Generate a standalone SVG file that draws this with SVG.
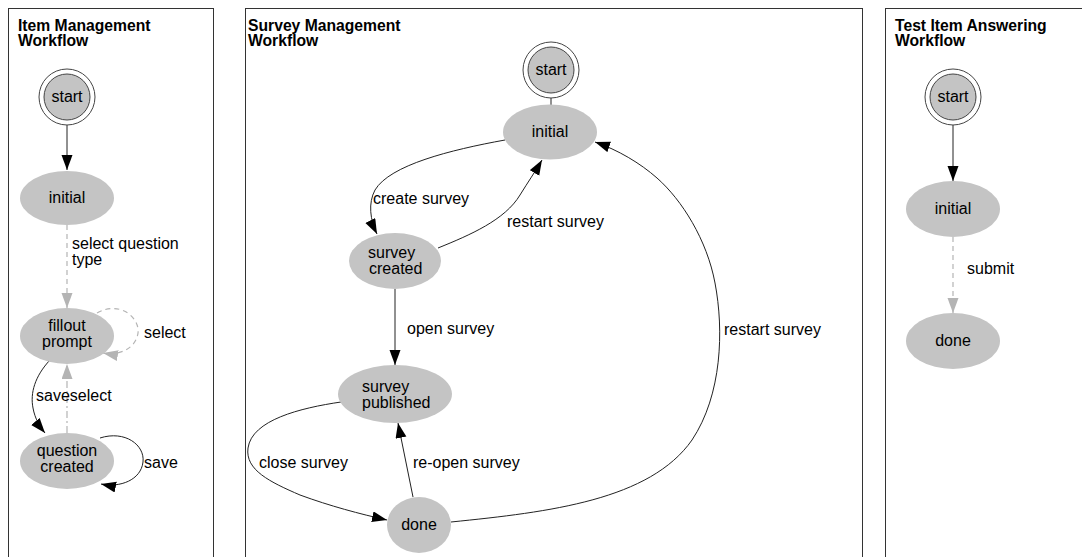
<svg xmlns="http://www.w3.org/2000/svg" width="1082" height="557" viewBox="0 0 1082 557">
<style>
text{font-family:"Liberation Sans",Arial,Helvetica,sans-serif;font-size:16px;fill:#000}
.title{font-weight:bold;font-size:15.7px}
.panel{fill:#fff;stroke:#333;stroke-width:1}
.node{fill:#c4c4c4;stroke:none}
.outer{fill:#fff;stroke:#444;stroke-width:1}
.inner{fill:#c4c4c4;stroke:#444;stroke-width:1}
.c{text-anchor:middle}
.e{fill:none;stroke:#222;stroke-width:1}
.g{fill:none;stroke:#b4b4b4;stroke-width:1.2;stroke-dasharray:5,4}
.gd{fill:none;stroke:#b4b4b4;stroke-width:1.2;stroke-dasharray:7,3,2,3}
</style>
<defs>
<marker id="ab" markerUnits="userSpaceOnUse" markerWidth="16" markerHeight="12" refX="15" refY="5.5" orient="auto"><path d="M0,0 L15,5.5 L0,11 z" fill="#000"/></marker>
<marker id="ag" markerUnits="userSpaceOnUse" markerWidth="16" markerHeight="12" refX="15" refY="5.5" orient="auto"><path d="M0,0 L15,5.5 L0,11 z" fill="#b4b4b4"/></marker>
</defs>
<rect width="1082" height="557" fill="#fff"/>
<g id="panels">
<rect class="panel" x="8.5" y="8.5" width="205" height="560"/>
<rect class="panel" x="245.5" y="8.5" width="617" height="560"/>
<rect class="panel" x="885.5" y="8.5" width="210" height="560"/>
<text class="title" x="18" y="31">Item Management</text>
<text class="title" x="18" y="46">Workflow</text>
<text class="title" x="248" y="31">Survey Management</text>
<text class="title" x="248" y="46">Workflow</text>
<text class="title" x="895" y="31">Test Item Answering</text>
<text class="title" x="895" y="46">Workflow</text>
</g>
<g id="connectors">
<path class="e" d="M67,125 L67,170" marker-end="url(#ab)"/>
<path class="g" d="M67,225 L67,308" marker-end="url(#ag)"/>
<path class="g" d="M97,313 C120,300 140,318 138,333 C136,348 120,356 103,353" marker-end="url(#ag)"/>
<path class="e" d="M50,360 C35,376 30,393 33,408 C35,419 40,427 45,433" marker-end="url(#ab)"/>
<path class="gd" d="M67,433 L67,364" marker-end="url(#ag)"/>
<path class="e" d="M100,438 C125,430 145,445 143,462 C141,480 120,488 101,484" marker-end="url(#ab)"/>
<path class="e" d="M551,98 L551,105"/>
<path class="e" d="M505,140 C450,150 390,165 375,190 C368,203 370,220 377,234" marker-end="url(#ab)"/>
<path class="e" d="M438,248 C470,235 505,220 520,195 C528,182 535,172 542,160" marker-end="url(#ab)"/>
<path class="e" d="M395,289 L395,365" marker-end="url(#ab)"/>
<path class="e" d="M341,402 C300,408 252,420 248,448 C245,470 270,482 300,495 C330,506 360,514 387,520" marker-end="url(#ab)"/>
<path class="e" d="M413,497 L398,423" marker-end="url(#ab)"/>
<path class="e" d="M451,522 C550,512 650,500 692,440 C722,395 724,330 715,283 C707,240 682,200 657,178 C640,163 618,150 595,142" marker-end="url(#ab)"/>
<path class="e" d="M953,125 L953,181" marker-end="url(#ab)"/>
<path class="g" d="M953,237 L953,313" marker-end="url(#ag)"/>
</g>
<g id="labels">
<text x="72" y="249">select question</text>
<text x="72" y="265">type</text>
<text x="144" y="338">select</text>
<text x="36" y="401">saveselect</text>
<text x="144" y="468">save</text>
<text x="373" y="204">create survey</text>
<text x="507" y="227">restart survey</text>
<text x="407" y="334">open survey</text>
<text x="259" y="468">close survey</text>
<text x="413" y="468">re-open survey</text>
<text x="724" y="335">restart survey</text>
<text x="967" y="274">submit</text>
</g>
<g id="im-start"><circle class="outer" cx="67" cy="97" r="28"/><circle class="inner" cx="67" cy="97" r="23"/><text class="c" x="67" y="102">start</text></g>
<g id="im-initial"><ellipse class="node" cx="67" cy="198" rx="47" ry="27"/><text class="c" x="67" y="203">initial</text></g>
<g id="im-fillout"><ellipse class="node" cx="67" cy="336" rx="47" ry="28"/><text class="c" x="67" y="331">fillout</text><text class="c" x="67" y="347">prompt</text></g>
<g id="im-question"><ellipse class="node" cx="67" cy="461" rx="47" ry="28"/><text class="c" x="67" y="456">question</text><text class="c" x="67" y="472">created</text></g>
<g id="sm-start"><circle class="outer" cx="551" cy="70" r="28"/><circle class="inner" cx="551" cy="70" r="23"/><text class="c" x="551" y="75">start</text></g>
<g id="sm-initial"><ellipse class="node" cx="550" cy="132" rx="47" ry="27.5"/><text class="c" x="550" y="137">initial</text></g>
<g id="sm-created"><ellipse class="node" cx="395" cy="261" rx="46" ry="28"/><text x="368" y="258">survey</text><text x="369" y="274">created</text></g>
<g id="sm-published"><ellipse class="node" cx="395" cy="394" rx="57" ry="29"/><text x="362" y="392">survey</text><text x="362" y="408">published</text></g>
<g id="sm-done"><ellipse class="node" cx="419" cy="525" rx="32" ry="28"/><text class="c" x="419" y="530">done</text></g>
<g id="ta-start"><circle class="outer" cx="953" cy="97" r="28"/><circle class="inner" cx="953" cy="97" r="23"/><text class="c" x="953" y="102">start</text></g>
<g id="ta-initial"><ellipse class="node" cx="953" cy="209" rx="47" ry="28"/><text class="c" x="953" y="214">initial</text></g>
<g id="ta-done"><ellipse class="node" cx="953" cy="341" rx="47" ry="28"/><text class="c" x="953" y="346">done</text></g>
</svg>
